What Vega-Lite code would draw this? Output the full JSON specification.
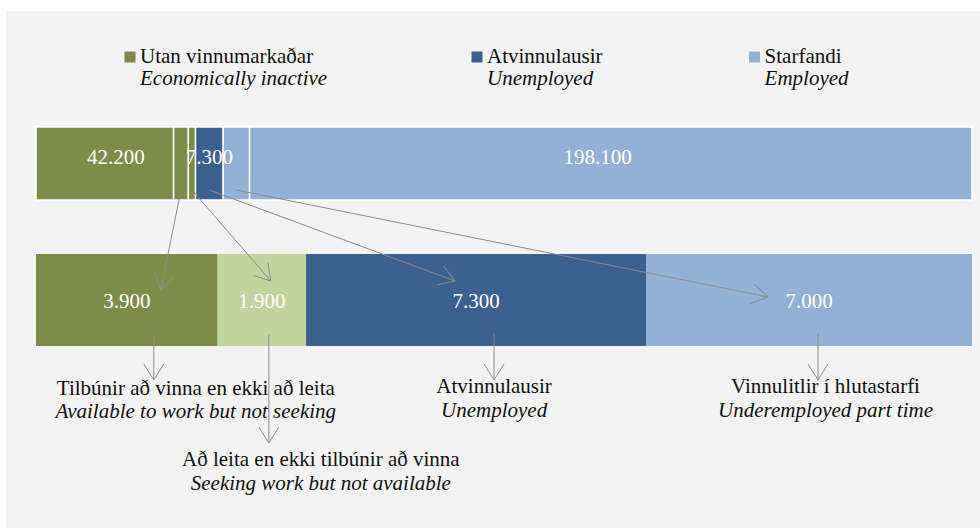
{
  "$schema": "https://vega.github.io/schema/vega-lite/v6.json",
  "width": 974,
  "height": 517,
  "autosize": {"type": "none"},
  "padding": {"left": 6, "top": 11, "right": 0, "bottom": 0},
  "background": "white",
  "config": {
    "font": "Liberation Serif, Times New Roman, serif",
    "view": {"stroke": null, "fill": "#f2f3f2"},
    "text": {"font": "Liberation Serif, Times New Roman, serif", "fontSize": 21, "color": "#111111", "baseline": "alphabetic"},
    "rule": {"color": "#8c8c8c", "strokeWidth": 1},
    "point": {"opacity": 1},
    "locale": {"number": {"decimal": ",", "thousands": ".", "grouping": [3], "currency": ["", " kr."]}}
  },
  "datasets": {
    "segs": [
      {"bar": "top", "order": 1, "part": "inactive_other", "grp": "inactive", "value": 36400},
      {"bar": "top", "order": 2, "part": "available", "grp": "inactive", "value": 3900},
      {"bar": "top", "order": 3, "part": "seeking", "grp": "inactive", "value": 1900},
      {"bar": "top", "order": 4, "part": "unemployed", "grp": "unemployed", "value": 7300},
      {"bar": "top", "order": 5, "part": "underemployed", "grp": "employed", "value": 7000},
      {"bar": "top", "order": 6, "part": "employed_other", "grp": "employed", "value": 191100},
      {"bar": "bottom", "order": 1, "part": "available", "grp": "inactive", "value": 3900, "is": "Tilbúnir að vinna en ekki að leita", "en": "Available to work but not seeking"},
      {"bar": "bottom", "order": 2, "part": "seeking", "grp": "seeking", "value": 1900, "is": "Að leita en ekki tilbúnir að vinna", "en": "Seeking work but not available"},
      {"bar": "bottom", "order": 3, "part": "unemployed", "grp": "unemployed", "value": 7300, "is": "Atvinnulausir", "en": "Unemployed"},
      {"bar": "bottom", "order": 4, "part": "underemployed", "grp": "employed", "value": 7000, "is": "Vinnulitlir í hlutastarfi", "en": "Underemployed part time"}
    ],
    "legend": [
      {"key": "inactive", "is": "Utan vinnumarkaðar", "en": "Economically inactive"},
      {"key": "unemployed", "is": "Atvinnulausir", "en": "Unemployed"},
      {"key": "employed", "is": "Starfandi", "en": "Employed"}
    ]
  },
  "resolve": {"scale": {"x": "independent"}},
  "layer": [
    {
      "data": {"name": "segs"},
      "transform": [
        {"stack": "value", "groupby": ["bar"], "sort": [{"field": "order", "order": "ascending"}], "offset": "normalize", "as": ["s0", "s1"]}
      ],
      "encoding": {
        "x": {"field": "s0", "type": "quantitative", "scale": {"domain": [-0.032051, 1.008547], "nice": false, "zero": false}, "axis": null},
        "x2": {"field": "s1"},
        "y": {"field": "bar", "type": "nominal", "scale": {"type": "band", "domain": ["top", "bottom"], "range": [84.25, 357.25], "paddingInner": 0, "paddingOuter": 0}, "axis": null},
        "color": {"field": "grp", "type": "nominal", "scale": {"domain": ["inactive", "unemployed", "employed", "seeking"], "range": ["#7f8b48", "#3c6090", "#93b0d6", "#c2d49d"]}, "legend": null}
      },
      "layer": [
        {"transform": [{"filter": "datum.bar === 'top'"}], "mark": {"type": "bar", "height": 73, "stroke": "white", "strokeWidth": 1.5}},
        {"transform": [{"filter": "datum.bar === 'bottom'"}], "mark": {"type": "bar", "height": 92}}
      ]
    },
    {
      "data": {"name": "segs"},
      "transform": [
        {"stack": "value", "groupby": ["bar"], "sort": [{"field": "order", "order": "ascending"}], "offset": "normalize", "as": ["s0", "s1"]},
        {"aggregate": [{"op": "sum", "field": "value", "as": "total"}, {"op": "min", "field": "s0", "as": "lo"}, {"op": "max", "field": "s1", "as": "hi"}], "groupby": ["bar", "grp"]},
        {"calculate": "(datum.lo + datum.hi) / 2", "as": "mid"}
      ],
      "encoding": {
        "x": {"field": "mid", "type": "quantitative", "scale": {"domain": [-0.032051, 1.008547], "nice": false, "zero": false}, "axis": null},
        "y": {"field": "bar", "type": "nominal", "scale": {"type": "band", "domain": ["top", "bottom"], "range": [84.25, 357.25], "paddingInner": 0, "paddingOuter": 0}, "axis": null},
        "text": {"field": "total", "type": "quantitative", "format": ",.0f"}
      },
      "layer": [
        {"transform": [{"filter": "datum.bar === 'top'"}], "mark": {"type": "text", "color": "white", "align": "center", "dy": 0}},
        {"transform": [{"filter": "datum.bar === 'bottom'"}], "mark": {"type": "text", "color": "white", "align": "center", "dy": 8}}
      ]
    },
    {
      "data": {"name": "segs"},
      "transform": [
        {"stack": "value", "groupby": ["bar"], "sort": [{"field": "order", "order": "ascending"}], "offset": "normalize", "as": ["s0", "s1"]},
        {"calculate": "(datum.s0 + datum.s1) / 2", "as": "mid"},
        {"calculate": "datum.bar === 'top' ? datum.mid : null", "as": "mt"},
        {"calculate": "datum.bar === 'bottom' ? datum.mid : null", "as": "mb"},
        {"joinaggregate": [{"op": "max", "field": "mt", "as": "xTop"}, {"op": "max", "field": "mb", "as": "xBot"}], "groupby": ["part"]},
        {"filter": "datum.bar === 'bottom'"}
      ],
      "encoding": {
        "x": {"field": "xBot", "type": "quantitative", "scale": {"domain": [-0.032051, 1.008547], "nice": false, "zero": false}, "axis": null},
        "y": {"datum": "bottom", "type": "nominal", "scale": {"type": "band", "domain": ["top", "bottom"], "range": [84.25, 357.25], "paddingInner": 0, "paddingOuter": 0}, "axis": null}
      },
      "layer": [
        {
          "transform": [
            {"filter": "datum.part === 'available'"},
            {"calculate": "-atan2((datum.xBot - datum.xTop) * 936 + 34, 100) * 180 / PI", "as": "ang"}
          ],
          "layer": [
            {"mark": {"type": "rule", "yOffset": 26.5, "y2Offset": -10, "x2Offset": 34}, "encoding": {"x": {"field": "xTop", "type": "quantitative"}, "x2": {"field": "xBot"}, "y": {"datum": "top", "type": "nominal"}, "y2": {"datum": "bottom"}}},
            {"mark": {"type": "point", "shape": "M-0.625,-1L0,0L0.625,-1", "size": 1024, "filled": false, "color": "#8c8c8c", "strokeWidth": 1, "xOffset": 34, "yOffset": -10}, "encoding": {"angle": {"field": "ang", "type": "quantitative", "scale": null}}},
            {"mark": {"type": "rule", "xOffset": 27, "x2Offset": 27, "yOffset": 34, "y2Offset": 80}, "encoding": {"y2": {"datum": "bottom"}}},
            {"mark": {"type": "point", "shape": "M-0.625,-1L0,0L0.625,-1", "size": 1024, "filled": false, "color": "#8c8c8c", "strokeWidth": 1, "xOffset": 27, "yOffset": 80}, "encoding": {}},
            {"mark": {"type": "text", "align": "center", "dx": 69, "dy": 95}, "encoding": {"text": {"field": "is"}}},
            {"mark": {"type": "text", "align": "center", "fontStyle": "italic", "dx": 69, "dy": 118}, "encoding": {"text": {"field": "en"}}}
          ]
        },
        {
          "transform": [
            {"filter": "datum.part === 'seeking'"},
            {"calculate": "-atan2((datum.xBot - datum.xTop) * 936 + 9, 91) * 180 / PI", "as": "ang"}
          ],
          "layer": [
            {"mark": {"type": "rule", "yOffset": 26.5, "y2Offset": -19, "x2Offset": 9}, "encoding": {"x": {"field": "xTop", "type": "quantitative"}, "x2": {"field": "xBot"}, "y": {"datum": "top", "type": "nominal"}, "y2": {"datum": "bottom"}}},
            {"mark": {"type": "point", "shape": "M-0.625,-1L0,0L0.625,-1", "size": 1024, "filled": false, "color": "#8c8c8c", "strokeWidth": 1, "xOffset": 9, "yOffset": -19}, "encoding": {"angle": {"field": "ang", "type": "quantitative", "scale": null}}},
            {"mark": {"type": "rule", "xOffset": 7, "x2Offset": 7, "yOffset": 34, "y2Offset": 143}, "encoding": {"y2": {"datum": "bottom"}}},
            {"mark": {"type": "point", "shape": "M-0.625,-1L0,0L0.625,-1", "size": 1024, "filled": false, "color": "#8c8c8c", "strokeWidth": 1, "xOffset": 7, "yOffset": 143}, "encoding": {}},
            {"mark": {"type": "text", "align": "center", "dx": 59, "dy": 166}, "encoding": {"text": {"field": "is"}}},
            {"mark": {"type": "text", "align": "center", "fontStyle": "italic", "dx": 59, "dy": 190}, "encoding": {"text": {"field": "en"}}}
          ]
        },
        {
          "transform": [
            {"filter": "datum.part === 'unemployed'"},
            {"calculate": "-atan2((datum.xBot - datum.xTop) * 936 - 21, 91) * 180 / PI", "as": "ang"}
          ],
          "layer": [
            {"mark": {"type": "rule", "yOffset": 26.5, "y2Offset": -19, "x2Offset": -21}, "encoding": {"x": {"field": "xTop", "type": "quantitative"}, "x2": {"field": "xBot"}, "y": {"datum": "top", "type": "nominal"}, "y2": {"datum": "bottom"}}},
            {"mark": {"type": "point", "shape": "M-0.625,-1L0,0L0.625,-1", "size": 1024, "filled": false, "color": "#8c8c8c", "strokeWidth": 1, "xOffset": -21, "yOffset": -19}, "encoding": {"angle": {"field": "ang", "type": "quantitative", "scale": null}}},
            {"mark": {"type": "rule", "xOffset": 18, "x2Offset": 18, "yOffset": 34, "y2Offset": 80}, "encoding": {"y2": {"datum": "bottom"}}},
            {"mark": {"type": "point", "shape": "M-0.625,-1L0,0L0.625,-1", "size": 1024, "filled": false, "color": "#8c8c8c", "strokeWidth": 1, "xOffset": 18, "yOffset": 80}, "encoding": {}},
            {"mark": {"type": "text", "align": "center", "dx": 18, "dy": 93}, "encoding": {"text": {"field": "is"}}},
            {"mark": {"type": "text", "align": "center", "fontStyle": "italic", "dx": 18, "dy": 117}, "encoding": {"text": {"field": "en"}}}
          ]
        },
        {
          "transform": [
            {"filter": "datum.part === 'underemployed'"},
            {"calculate": "-atan2((datum.xBot - datum.xTop) * 936 - 41, 107) * 180 / PI", "as": "ang"}
          ],
          "layer": [
            {"mark": {"type": "rule", "yOffset": 26.5, "y2Offset": -3, "x2Offset": -41}, "encoding": {"x": {"field": "xTop", "type": "quantitative"}, "x2": {"field": "xBot"}, "y": {"datum": "top", "type": "nominal"}, "y2": {"datum": "bottom"}}},
            {"mark": {"type": "point", "shape": "M-0.625,-1L0,0L0.625,-1", "size": 1024, "filled": false, "color": "#8c8c8c", "strokeWidth": 1, "xOffset": -41, "yOffset": -3}, "encoding": {"angle": {"field": "ang", "type": "quantitative", "scale": null}}},
            {"mark": {"type": "rule", "xOffset": 9, "x2Offset": 9, "yOffset": 34, "y2Offset": 80}, "encoding": {"y2": {"datum": "bottom"}}},
            {"mark": {"type": "point", "shape": "M-0.625,-1L0,0L0.625,-1", "size": 1024, "filled": false, "color": "#8c8c8c", "strokeWidth": 1, "xOffset": 9, "yOffset": 80}, "encoding": {}},
            {"mark": {"type": "text", "align": "center", "dx": 16.5, "dy": 93}, "encoding": {"text": {"field": "is"}}},
            {"mark": {"type": "text", "align": "center", "fontStyle": "italic", "dx": 16.5, "dy": 117}, "encoding": {"text": {"field": "en"}}}
          ]
        }
      ]
    },
    {
      "data": {"name": "legend"},
      "encoding": {
        "x": {"field": "key", "type": "nominal", "scale": {"type": "point", "domain": ["inactive", "g1", "g2", "g3", "g4", "unemployed", "g6", "g7", "g8", "employed"], "range": [134, 758.6], "padding": 0}, "axis": null},
        "y": {"datum": "top", "type": "nominal", "axis": null}
      },
      "layer": [
        {
          "mark": {"type": "point", "shape": "square", "size": 121, "filled": true, "opacity": 1, "xOffset": -10, "yOffset": -106.5},
          "encoding": {
            "color": {"field": "key", "type": "nominal", "scale": {"domain": ["inactive", "unemployed", "employed", "seeking"], "range": ["#7f8b48", "#3c6090", "#93b0d6", "#c2d49d"]}, "legend": null}
          }
        },
        {"mark": {"type": "text", "align": "left", "dy": -100.5}, "encoding": {"text": {"field": "is"}}},
        {"mark": {"type": "text", "align": "left", "fontStyle": "italic", "dy": -78.5}, "encoding": {"text": {"field": "en"}}}
      ]
    }
  ]
}
